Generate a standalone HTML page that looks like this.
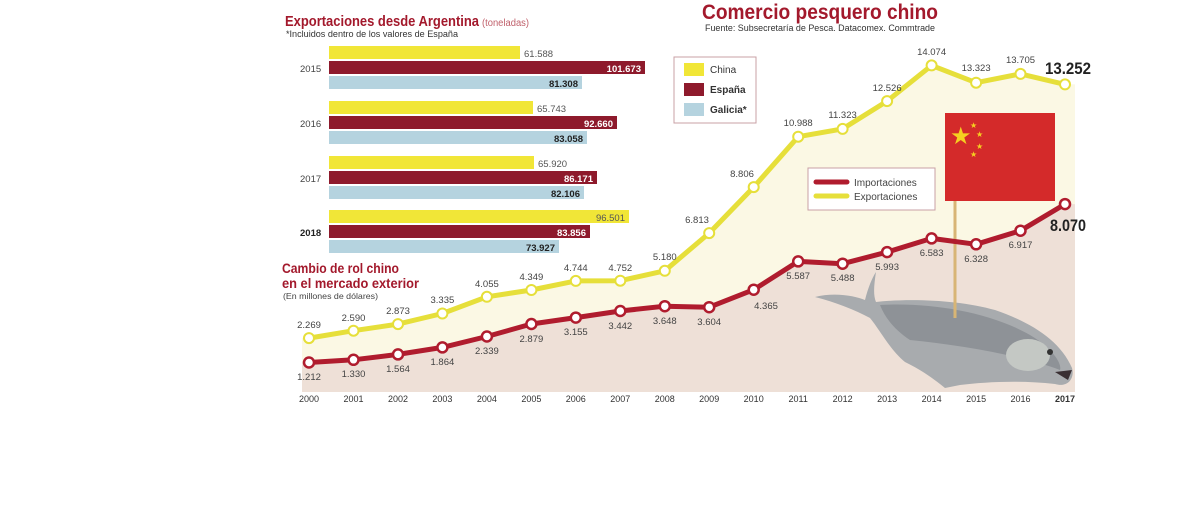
<!DOCTYPE html>
<html><head><meta charset="utf-8"><style>
html,body{margin:0;padding:0;background:#fff;}
svg{display:block;font-family:"Liberation Sans Narrow","Liberation Sans",sans-serif;}
</style></head><body>
<svg width="1200" height="528" viewBox="0 0 1200 528" xmlns="http://www.w3.org/2000/svg">
<polygon fill="#fbf8e4" points="302,338.1 309,338.1 353.5,330.7 398,324.1 442.4,313.5 486.9,296.8 531.4,290 575.8,280.9 620.3,280.7 664.8,270.8 709.2,233.1 753.7,187.1 798.2,136.7 842.6,128.9 887.1,101.1 931.6,65.4 976.1,82.7 1020.5,73.9 1065,84.4 1075,84.4 1075,392 302,392"/>
<polygon fill="#eee0d7" points="302,362.5 309,362.5 353.5,359.8 398,354.4 442.4,347.4 486.9,336.5 531.4,324 575.8,317.6 620.3,311 664.8,306.2 709.2,307.2 753.7,289.7 798.2,261.4 842.6,263.7 887.1,252.1 931.6,238.4 976.1,244.3 1020.5,230.7 1065,204.1 1075,204.1 1075,392 302,392"/>

<text x="285" y="26" font-size="15" font-weight="bold" fill="#a3192c" textLength="194" lengthAdjust="spacingAndGlyphs">Exportaciones desde Argentina</text>
<text x="482" y="26" font-size="10" fill="#c0606b" textLength="47" lengthAdjust="spacingAndGlyphs">(toneladas)</text>
<text x="286" y="37" font-size="9" fill="#333" textLength="172" lengthAdjust="spacingAndGlyphs">*Incluidos dentro de los valores de España</text>
<g font-size="9.5">
<text x="300" y="72" fill="#444">2015</text>
<rect x="329" y="46" width="191" height="13" fill="#f1e637"/>
<rect x="329" y="61" width="316" height="13" fill="#8e1a2c"/>
<rect x="329" y="76" width="253" height="13" fill="#b5d3df"/>
<text x="524" y="57" fill="#555">61.588</text>
<text x="641" y="72" fill="#fff" font-weight="bold" text-anchor="end">101.673</text>
<text x="578" y="87" fill="#222" font-weight="bold" text-anchor="end">81.308</text>

<text x="300" y="127" fill="#444">2016</text>
<rect x="329" y="101" width="204" height="13" fill="#f1e637"/>
<rect x="329" y="116" width="288" height="13" fill="#8e1a2c"/>
<rect x="329" y="131" width="258" height="13" fill="#b5d3df"/>
<text x="537" y="112" fill="#555">65.743</text>
<text x="613" y="127" fill="#fff" font-weight="bold" text-anchor="end">92.660</text>
<text x="583" y="142" fill="#222" font-weight="bold" text-anchor="end">83.058</text>

<text x="300" y="182" fill="#444">2017</text>
<rect x="329" y="156" width="205" height="13" fill="#f1e637"/>
<rect x="329" y="171" width="268" height="13" fill="#8e1a2c"/>
<rect x="329" y="186" width="255" height="13" fill="#b5d3df"/>
<text x="538" y="167" fill="#555">65.920</text>
<text x="593" y="182" fill="#fff" font-weight="bold" text-anchor="end">86.171</text>
<text x="580" y="197" fill="#222" font-weight="bold" text-anchor="end">82.106</text>

<text x="300" y="236" fill="#222" font-weight="bold">2018</text>
<rect x="329" y="210" width="300" height="13" fill="#f1e637"/>
<rect x="329" y="225" width="261" height="13" fill="#8e1a2c"/>
<rect x="329" y="240" width="230" height="13" fill="#b5d3df"/>
<text x="625" y="221" fill="#555" text-anchor="end">96.501</text>
<text x="586" y="236" fill="#fff" font-weight="bold" text-anchor="end">83.856</text>
<text x="555" y="251" fill="#222" font-weight="bold" text-anchor="end">73.927</text>
</g>
<rect x="674" y="57" width="82" height="66" fill="#fff" stroke="#c9a0a6" stroke-width="1"/>
<rect x="684" y="63" width="20" height="13" fill="#f1e637"/>
<rect x="684" y="83" width="20" height="13" fill="#8e1a2c"/>
<rect x="684" y="103" width="20" height="13" fill="#b5d3df"/>
<g font-size="10" fill="#333"><text x="710" y="73">China</text><text x="710" y="93" font-weight="bold">España</text><text x="710" y="113" font-weight="bold">Galicia*</text></g>

<text x="702" y="19" font-size="21" font-weight="bold" fill="#a3192c" textLength="236" lengthAdjust="spacingAndGlyphs">Comercio pesquero chino</text>
<text x="705" y="31" font-size="9" fill="#333" textLength="230" lengthAdjust="spacingAndGlyphs">Fuente: Subsecretaría de Pesca. Datacomex. Commtrade</text>
<text x="282" y="273" font-size="14" font-weight="bold" fill="#a3192c" textLength="117" lengthAdjust="spacingAndGlyphs">Cambio de rol chino</text>
<text x="282" y="288" font-size="14" font-weight="bold" fill="#a3192c" textLength="137" lengthAdjust="spacingAndGlyphs">en el mercado exterior</text>
<text x="283" y="299" font-size="8.5" fill="#444" textLength="95" lengthAdjust="spacingAndGlyphs">(En millones de dólares)</text>

<rect x="808" y="168" width="127" height="42" fill="#fff" stroke="#c9a0a6"/>
<line x1="816" y1="182" x2="847" y2="182" stroke="#b01c2e" stroke-width="5" stroke-linecap="round"/>
<line x1="816" y1="196" x2="847" y2="196" stroke="#e6df3a" stroke-width="5" stroke-linecap="round"/>
<g font-size="10" fill="#444"><text x="854" y="186">Importaciones</text><text x="854" y="200">Exportaciones</text></g>

<path d="M815,297 C835,292 855,296 865,300 C868,288 872,278 876,272 C874,285 873,295 876,302 C910,298 960,300 995,310 C1030,322 1060,340 1072,368 C1075,378 1068,388 1055,384 C1020,380 985,382 960,385 L945,388 C935,380 925,372 905,362 C890,350 880,330 870,318 C855,310 835,302 815,297 Z" fill="#a8abae"/>
<path d="M880,305 C930,302 990,312 1030,335 C1055,350 1062,365 1060,370 C1020,355 960,345 910,340 C895,330 885,318 880,305Z" fill="#7d8287" opacity="0.6"/>
<ellipse cx="1028" cy="355" rx="22" ry="16" fill="#c4c8c4"/>
<circle cx="1050" cy="352" r="3" fill="#333"/>
<path d="M1055,372 L1072,370 L1068,380 Z" fill="#3a2f33"/>

<line x1="955" y1="200" x2="955" y2="318" stroke="#d8b575" stroke-width="3"/>
<rect x="945" y="113" width="110" height="88" fill="#d42a2a"/>
<text x="950" y="144" font-size="24" fill="#f5d020">★</text>
<g font-size="8" fill="#f5d020"><text x="970" y="128">★</text><text x="976" y="137">★</text><text x="976" y="149">★</text><text x="970" y="157">★</text></g>

<polyline fill="none" stroke="#e6df3a" stroke-width="5" stroke-linejoin="round" points="309,338.1 353.5,330.7 398,324.1 442.4,313.5 486.9,296.8 531.4,290 575.8,280.9 620.3,280.7 664.8,270.8 709.2,233.1 753.7,187.1 798.2,136.7 842.6,128.9 887.1,101.1 931.6,65.4 976.1,82.7 1020.5,73.9 1065,84.4"/>
<polyline fill="none" stroke="#b01c2e" stroke-width="5" stroke-linejoin="round" points="309,362.5 353.5,359.8 398,354.4 442.4,347.4 486.9,336.5 531.4,324 575.8,317.6 620.3,311 664.8,306.2 709.2,307.2 753.7,289.7 798.2,261.4 842.6,263.7 887.1,252.1 931.6,238.4 976.1,244.3 1020.5,230.7 1065,204.1"/>
<g fill="#fff" stroke="#e6df3a" stroke-width="2">
<circle cx="309" cy="338.1" r="5"/><circle cx="353.5" cy="330.7" r="5"/><circle cx="398" cy="324.1" r="5"/><circle cx="442.4" cy="313.5" r="5"/><circle cx="486.9" cy="296.8" r="5"/><circle cx="531.4" cy="290" r="5"/><circle cx="575.8" cy="280.9" r="5"/><circle cx="620.3" cy="280.7" r="5"/><circle cx="664.8" cy="270.8" r="5"/><circle cx="709.2" cy="233.1" r="5"/><circle cx="753.7" cy="187.1" r="5"/><circle cx="798.2" cy="136.7" r="5"/><circle cx="842.6" cy="128.9" r="5"/><circle cx="887.1" cy="101.1" r="5"/><circle cx="931.6" cy="65.4" r="5"/><circle cx="976.1" cy="82.7" r="5"/><circle cx="1020.5" cy="73.9" r="5"/><circle cx="1065" cy="84.4" r="5"/>
</g>
<g fill="#fff" stroke="#b01c2e" stroke-width="2.5">
<circle cx="309" cy="362.5" r="5"/><circle cx="353.5" cy="359.8" r="5"/><circle cx="398" cy="354.4" r="5"/><circle cx="442.4" cy="347.4" r="5"/><circle cx="486.9" cy="336.5" r="5"/><circle cx="531.4" cy="324" r="5"/><circle cx="575.8" cy="317.6" r="5"/><circle cx="620.3" cy="311" r="5"/><circle cx="664.8" cy="306.2" r="5"/><circle cx="709.2" cy="307.2" r="5"/><circle cx="753.7" cy="289.7" r="5"/><circle cx="798.2" cy="261.4" r="5"/><circle cx="842.6" cy="263.7" r="5"/><circle cx="887.1" cy="252.1" r="5"/><circle cx="931.6" cy="238.4" r="5"/><circle cx="976.1" cy="244.3" r="5"/><circle cx="1020.5" cy="230.7" r="5"/><circle cx="1065" cy="204.1" r="5"/>
</g>
<g font-size="9.5" fill="#444" text-anchor="middle">
<text x="309" y="328">2.269</text><text x="353.5" y="321">2.590</text><text x="398" y="314">2.873</text><text x="442.4" y="303">3.335</text><text x="486.9" y="287">4.055</text><text x="531.4" y="280">4.349</text><text x="575.8" y="271">4.744</text><text x="620.3" y="271">4.752</text><text x="664.8" y="260">5.180</text><text x="697" y="223">6.813</text><text x="742" y="177">8.806</text><text x="798.2" y="126">10.988</text><text x="842.6" y="118">11.323</text><text x="887.1" y="91">12.526</text><text x="931.6" y="55">14.074</text><text x="976.1" y="71">13.323</text><text x="1020.5" y="63">13.705</text>
</g>
<text x="1068" y="74" font-size="17" font-weight="bold" fill="#222" text-anchor="middle" textLength="46" lengthAdjust="spacingAndGlyphs">13.252</text>
<g font-size="9.5" fill="#444" text-anchor="middle">
<text x="309" y="380">1.212</text><text x="353.5" y="377">1.330</text><text x="398" y="372">1.564</text><text x="442.4" y="365">1.864</text><text x="486.9" y="354">2.339</text><text x="531.4" y="342">2.879</text><text x="575.8" y="335">3.155</text><text x="620.3" y="329">3.442</text><text x="664.8" y="324">3.648</text><text x="709.2" y="325">3.604</text><text x="766" y="309">4.365</text><text x="798.2" y="279">5.587</text><text x="842.6" y="281">5.488</text><text x="887.1" y="270">5.993</text><text x="931.6" y="256">6.583</text><text x="976.1" y="262">6.328</text><text x="1020.5" y="248">6.917</text>
</g>
<text x="1068" y="231" font-size="17" font-weight="bold" fill="#222" text-anchor="middle" textLength="36" lengthAdjust="spacingAndGlyphs">8.070</text>
<g font-size="9" fill="#333" text-anchor="middle">
<text x="309" y="402">2000</text><text x="353.5" y="402">2001</text><text x="398" y="402">2002</text><text x="442.4" y="402">2003</text><text x="486.9" y="402">2004</text><text x="531.4" y="402">2005</text><text x="575.8" y="402">2006</text><text x="620.3" y="402">2007</text><text x="664.8" y="402">2008</text><text x="709.2" y="402">2009</text><text x="753.7" y="402">2010</text><text x="798.2" y="402">2011</text><text x="842.6" y="402">2012</text><text x="887.1" y="402">2013</text><text x="931.6" y="402">2014</text><text x="976.1" y="402">2015</text><text x="1020.5" y="402">2016</text><text x="1065" y="402" font-weight="bold">2017</text>
</g>
</svg>
</body></html>
